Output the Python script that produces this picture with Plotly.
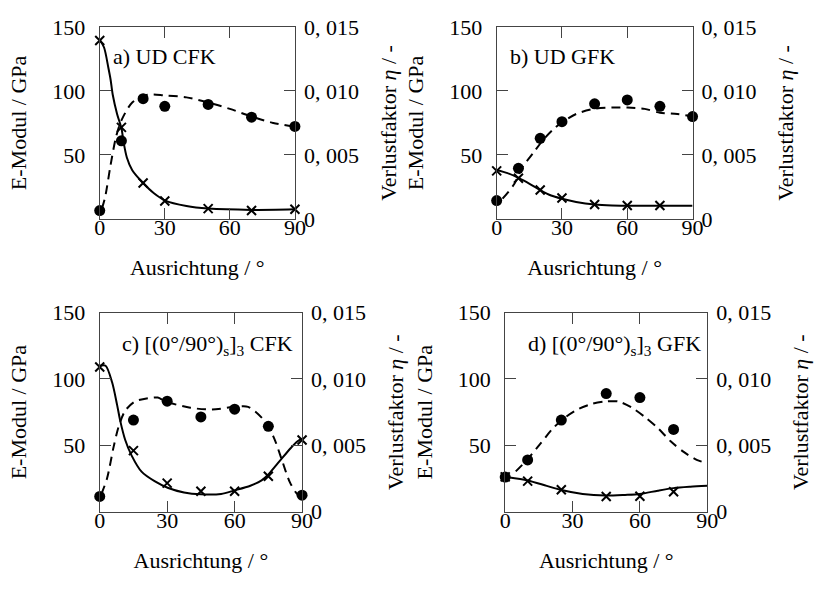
import plotly.graph_objects as go

# ---------------- data ----------------
# a) UD CFK
a_x_meas = [0, 10, 20, 30, 50, 70, 90]
a_E_meas = [139.5, 71.5, 28, 14, 8, 6.5, 7.5]
a_eta_meas = [0.00065, 0.0061, 0.0094, 0.0088, 0.00895, 0.00795, 0.00723]
a_x_Efit = [0, 2, 4, 5, 6, 8, 10, 11, 12.5, 15, 20, 25, 30, 40, 50, 70, 90]
a_Efit = [140, 134, 118, 109, 97, 82, 71, 60, 48, 38, 28, 20, 14.5, 10, 8, 7, 7.5]
a_x_etafit = [1, 2.5, 5, 7.5, 10, 15, 22, 30, 40, 50, 60, 70, 80, 90]
a_etafit = [0.0008, 0.0017, 0.0042, 0.0064, 0.0077, 0.0091, 0.0097, 0.00965, 0.0095, 0.0091, 0.0086, 0.0080, 0.0075, 0.0072]

# b) UD GFK
b_x_E = [0, 10, 20, 30, 45, 60, 75]
b_E_meas = [37.5, 31.75, 22.5, 16.25, 11.25, 10.5, 10.5]
b_x_eta = [0, 10, 20, 30, 45, 60, 75, 90]
b_eta_meas = [0.00143, 0.00395, 0.0063, 0.0076, 0.009, 0.0093, 0.0088, 0.008]
b_x_Efit = [0, 5, 10, 15.5, 20, 25, 30, 36.5, 45, 53, 65, 90]
b_Efit = [38.25, 35.75, 32, 27, 22.5, 18.25, 15.75, 13.25, 11.25, 10.5, 10.25, 10.25]
b_x_etafit = [2.7, 8, 11.7, 17, 21.5, 26, 30.5, 36.5, 44.7, 53, 60, 68, 75, 83, 90]
b_etafit = [0.00158, 0.0027, 0.004, 0.0052, 0.0062, 0.007, 0.0076, 0.0082, 0.0086, 0.0087, 0.0087, 0.0086, 0.0083, 0.0082, 0.0080]

# c) [(0/90)s]3 CFK
c_x_meas = [0, 15, 30, 45, 60, 75, 90]
c_E_meas = [109, 46, 21.5, 15.3, 15.3, 26.7, 54]
c_eta_meas = [0.00114, 0.0069, 0.00833, 0.00714, 0.00772, 0.00643, 0.00124]
c_x_Efit = [0, 2.6, 5.5, 7.7, 9.1, 11.3, 14.2, 18.6, 24.4, 30.2, 37.5, 45, 54, 60, 67, 72, 75, 80, 85, 88, 90]
c_Efit = [110, 110, 97.5, 80.7, 68.6, 54.2, 42.2, 30.1, 22.9, 18, 14.4, 13, 13.3, 16, 19.5, 23.5, 28, 38, 48, 53, 55]
c_x_etafit = [0.7, 3.3, 6.2, 8.4, 11.3, 15.7, 21.5, 25.8, 29.4, 40.3, 50, 60, 66, 73, 77.4, 81, 84.6, 88, 90]
c_etafit = [0.0013, 0.00253, 0.0049, 0.0064, 0.0076, 0.0083, 0.00855, 0.0086, 0.0083, 0.00783, 0.0077, 0.0079, 0.0079, 0.0069, 0.0056, 0.0039, 0.0022, 0.0013, 0.0012]

# d) [(0/90)s]3 GFK
d_x_meas = [0, 10, 25, 45, 60, 75]
d_E_meas = [26.2, 23, 16.5, 11.4, 11.6, 15]
d_eta_meas = [0.0026, 0.0039, 0.0069, 0.0089, 0.0086, 0.0062]
d_x_Efit = [0, 10, 18.5, 25, 34.5, 44.6, 53.4, 60, 68, 75, 82.4, 90]
d_Efit = [26.2, 23.5, 19.4, 16.3, 13.3, 12.1, 12.6, 13.3, 15.8, 17.7, 18.7, 19.4]
d_x_etafit = [4.7, 10, 15.6, 21.4, 27.2, 33, 38.8, 44.6, 50.4, 56.3, 62, 68, 73.7, 79.5, 85.3, 89]
d_etafit = [0.00303, 0.00396, 0.0051, 0.0063, 0.00716, 0.00777, 0.00813, 0.0083, 0.0083, 0.00785, 0.00716, 0.0063, 0.0053, 0.0045, 0.0039, 0.0037]

panel_labels = ["a) UD CFK", "b) UD GFK",
                "c) [(0°/90°)<sub>s</sub>]<sub>3</sub> CFK",
                "d) [(0°/90°)<sub>s</sub>]<sub>3</sub> GFK"]
x_ticks = [0, 30, 60, 90]
E_ticks = [50, 100, 150]
eta_ticks = [0, 0.005, 0.010, 0.015]
eta_ticktext = ["0", "0, 005", "0, 010", "0, 015"]
x_title = "Ausrichtung / °"
E_title = "E-Modul / GPa"
eta_title = "Verlustfaktor <i>η</i> / -"

# ---------------- layout geometry (pixels) ----------------
W, H = 825, 590
boxes = [  # left, right, top, bottom in px
    (95.7, 295.0, 15.7, 216.0),
    (501.0, 701.0, 15.7, 216.0),
    (95.7, 302.3, 314.0, 521.7),
    (509.7, 716.0, 314.0, 521.7),
]
label_pos = [(5.1, 127, "left"), (5.0, 127, "left"), (86.8, 126, "right"), (88.3, 126, "right")]
LABEL_RAISE = 7  # px: x tick labels sit closer to the axis than plotly's default

panels = [
    (a_x_meas, a_E_meas, a_x_meas, a_eta_meas, a_x_Efit, a_Efit, a_x_etafit, a_etafit),
    (b_x_E, b_E_meas, b_x_eta, b_eta_meas, b_x_Efit, b_Efit, b_x_etafit, b_etafit),
    (c_x_meas, c_E_meas, c_x_meas, c_eta_meas, c_x_Efit, c_Efit, c_x_etafit, c_etafit),
    (d_x_meas, d_E_meas, d_x_meas, d_eta_meas, d_x_Efit, d_Efit, d_x_etafit, d_etafit),
]

FONT = "Liberation Serif"
AX = "#444444"
fig = go.Figure()
layout = {}
annotations = []
tf = dict(size=22, family=FONT, color="black")

for i, (p, box) in enumerate(zip(panels, boxes)):
    xE, E, xeta, eta, xEf, Ef, xetaf, etaf = p
    xn = "x" if i == 0 else f"x{i+1}"
    xlab = f"x{i+5}"
    yl = f"y{2*i+1}" if i > 0 else "y"
    yr = f"y{2*i+2}"
    xkey = "xaxis" if i == 0 else f"xaxis{i+1}"
    xlabkey = f"xaxis{i+5}"
    ylkey = "yaxis" if i == 0 else f"yaxis{2*i+1}"
    yrkey = f"yaxis{2*i+2}"
    l, r, t, b = box
    dx = [l / W, r / W]
    dy = [1 - b / H, 1 - t / H]

    fig.add_trace(go.Scatter(x=xEf, y=Ef, mode="lines", line=dict(color="black", width=2, shape="spline", smoothing=0.8),
                             xaxis=xn, yaxis=yl, cliponaxis=False, hoverinfo="skip"))
    fig.add_trace(go.Scatter(x=xetaf, y=etaf, mode="lines",
                             line=dict(color="black", width=2, dash="9px,6px", shape="spline", smoothing=0.8),
                             xaxis=xn, yaxis=yr, cliponaxis=False, hoverinfo="skip"))
    fig.add_trace(go.Scatter(x=xE, y=E, mode="markers",
                             marker=dict(symbol="x-thin", size=9, color="black", line=dict(color="black", width=2)),
                             xaxis=xn, yaxis=yl, cliponaxis=False))
    fig.add_trace(go.Scatter(x=xeta, y=eta, mode="markers",
                             marker=dict(symbol="circle", size=11, color="black"),
                             xaxis=xn, yaxis=yr, cliponaxis=False))
    # empty trace that keeps the tick-label axis alive
    fig.add_trace(go.Scatter(x=x_ticks, y=[None] * len(x_ticks), mode="markers", xaxis=xlab, yaxis=yl,
                             hoverinfo="skip", showlegend=False))

    layout[xkey] = dict(domain=dx, anchor=yl, range=[0, 90], tickvals=x_ticks, ticks="inside", ticklen=11,
                        tickcolor=AX, linecolor=AX, linewidth=1, showline=True, mirror="ticks", showgrid=False,
                        zeroline=False, showticklabels=False)
    layout[xlabkey] = dict(overlaying=xn, anchor="free", position=(H - b + LABEL_RAISE) / H, range=[0, 90],
                           tickvals=x_ticks, ticks="", showline=False, showgrid=False, zeroline=False,
                           tickfont=tf, title=dict(text=x_title, standoff=20, font=tf))
    layout[ylkey] = dict(domain=dy, anchor=xn, range=[0, 150], tickvals=E_ticks, ticks="inside", ticklen=11,
                         tickcolor=AX, linecolor=AX, linewidth=1, showline=True, mirror="ticks", showgrid=False,
                         zeroline=False, ticklabelstandoff=9,
                         title=dict(text=E_title, standoff=19, font=tf),
                         tickfont=tf)
    layout[yrkey] = dict(overlaying=yl, anchor=xn, side="right", range=[0, 0.015], tickvals=eta_ticks,
                         ticktext=eta_ticktext, ticks="inside", ticklen=11, tickcolor=AX, showline=False,
                         showgrid=False, zeroline=False, ticklabelstandoff=8,
                         title=dict(text=eta_title, standoff=22, font=tf),
                         tickfont=tf)
    lx, ly, la = label_pos[i]
    annotations.append(dict(x=lx, y=ly, xref=xn, yref=yl, text=panel_labels[i], showarrow=False,
                            xanchor=la, yanchor="middle", font=tf))

fig.update_layout(**layout)
fig.update_layout(width=W, height=H, margin=dict(l=0, r=0, t=0, b=0), showlegend=False,
                  font=dict(family=FONT, size=22, color="black"),
                  plot_bgcolor="white", paper_bgcolor="white", annotations=annotations)
fig.write_html("out.html")
